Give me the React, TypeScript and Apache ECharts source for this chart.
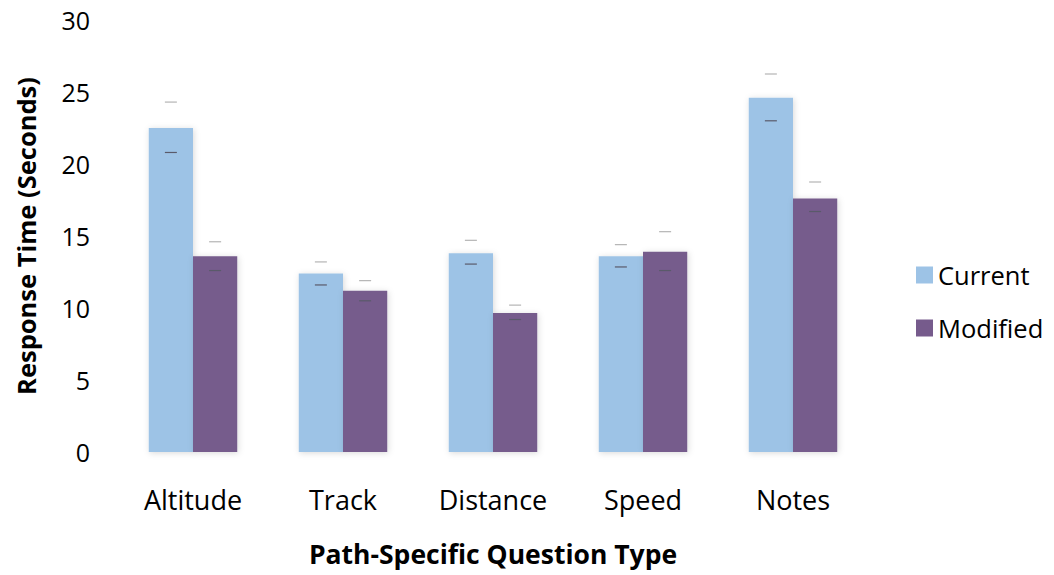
import React, { useEffect, useRef } from "react";
import * as echarts from "echarts";

const categories = ["Altitude", "Track", "Distance", "Speed", "Notes"];
const currentValues = [22.5, 12.4, 13.8, 13.6, 24.6];
const modifiedValues = [13.6, 11.2, 9.65, 13.9, 17.6];
const currentLow = [20.8, 11.6, 13.05, 12.85, 23.0];
const currentHigh = [24.3, 13.2, 14.7, 14.4, 26.25];
const modifiedLow = [12.6, 10.5, 9.2, 12.6, 16.7];
const modifiedHigh = [14.6, 11.9, 10.2, 15.3, 18.75];

const FONT = "'Open Sans', Lato, sans-serif";
const GAP = 0.41;

function makeErr(side: number) {
  return (params: any, api: any) => {
    const cat = api.value(0);
    const lo = api.coord([cat, api.value(1)]);
    const hi = api.coord([cat, api.value(2)]);
    const band = api.size([1, 0])[0];
    const bw = (band * (1 - GAP)) / 2;
    const cx = lo[0] + side * bw / 2;
    const half = 6;
    return {
      type: "group",
      children: [
        {
          type: "line",
          shape: { x1: cx - half, y1: hi[1], x2: cx + half, y2: hi[1] },
          style: { stroke: "#b4b4b4", lineWidth: 1.2 },
        },
        {
          type: "line",
          shape: { x1: cx - half, y1: lo[1], x2: cx + half, y2: lo[1] },
          style: { stroke: "#5a5a6a", lineWidth: 1.2 },
        },
      ],
    };
  };
}

export default function App() {
  const ref = useRef<HTMLDivElement>(null);
  useEffect(() => {
    const chart = echarts.init(ref.current!, null, { renderer: "svg" });
    chart.setOption({
      animation: false,
      textStyle: { fontFamily: FONT },
      grid: { left: 118, right: 186, top: 20, bottom: 123 },
      legend: {
        orient: "vertical",
        left: 911,
        top: 257,
        itemWidth: 17,
        itemHeight: 17,
        itemGap: 27,
        itemTextGap: 8,
        icon: "rect",
        data: ["Current", "Modified"],
        textStyle: { fontSize: 25.5, color: "#000", fontFamily: FONT },
      },
      xAxis: {
        type: "category",
        data: categories,
        axisLine: { show: false },
        axisTick: { show: false },
        axisLabel: { fontSize: 27, color: "#000", margin: 34, fontFamily: FONT },
        name: "Path-Specific Question Type",
        nameLocation: "middle",
        nameGap: 88,
        nameTextStyle: { fontSize: 26.5, fontWeight: "bold", color: "#000", fontFamily: FONT },
      },
      yAxis: {
        type: "value",
        min: 0,
        max: 30,
        interval: 5,
        splitLine: { show: false },
        axisLine: { show: false },
        axisTick: { show: false },
        axisLabel: { fontSize: 25, color: "#000", margin: 28, fontFamily: FONT },
        name: "Response Time (Seconds)",
        nameLocation: "middle",
        nameGap: 79,
        nameTextStyle: { fontSize: 25.5, fontWeight: "bold", color: "#000", fontFamily: FONT },
      },
      series: [
        {
          name: "Current",
          type: "bar",
          data: currentValues,
          barGap: "0%",
          barCategoryGap: "41%",
          itemStyle: {
            color: "#9dc3e6",
            shadowBlur: 6,
            shadowColor: "rgba(0,0,0,0.15)",
            shadowOffsetX: 1,
            shadowOffsetY: 1,
          },
        },
        {
          name: "Modified",
          type: "bar",
          data: modifiedValues,
          barGap: "0%",
          barCategoryGap: "41%",
          itemStyle: {
            color: "#765b8c",
            shadowBlur: 6,
            shadowColor: "rgba(0,0,0,0.15)",
            shadowOffsetX: 1,
            shadowOffsetY: 1,
          },
        },
        {
          type: "custom",
          renderItem: makeErr(-1),
          data: categories.map((_, i) => [i, currentLow[i], currentHigh[i]]),
          z: 10,
          silent: true,
        },
        {
          type: "custom",
          renderItem: makeErr(1),
          data: categories.map((_, i) => [i, modifiedLow[i], modifiedHigh[i]]),
          z: 10,
          silent: true,
        },
      ],
    });
    return () => chart.dispose();
  }, []);
  return (
    <div
      ref={ref}
      style={{ position: "fixed", left: 0, top: 0, width: 1054, height: 575, background: "#fff" }}
    />
  );
}
